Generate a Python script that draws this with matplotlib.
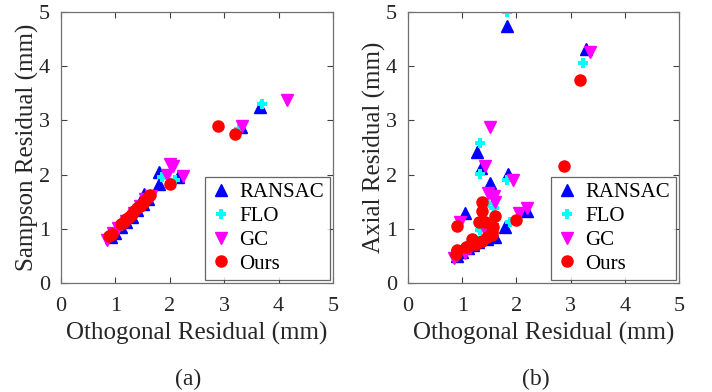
import matplotlib
matplotlib.use("Agg")
import matplotlib.pyplot as plt

plt.rcParams['font.family'] = ['Liberation Serif', 'DejaVu Serif']

# ---------------- data: panel (a) ----------------
a_ransac_x = [0.92, 1.0, 1.1, 1.2, 1.3, 1.4, 1.5, 1.52, 1.6, 1.8, 1.8, 2.15, 3.3, 3.65]
a_ransac_y = [0.85, 0.93, 1.03, 1.12, 1.22, 1.35, 1.45, 1.65, 1.55, 1.83, 2.05, 1.95, 2.88, 3.25]
a_flo_x = [0.95, 1.1, 1.25, 1.4, 1.55, 1.85, 2.1, 3.28, 3.7]
a_flo_y = [0.88, 1.05, 1.2, 1.38, 1.5, 1.95, 1.9, 2.85, 3.3]
a_gc_x = [0.85, 0.95, 1.05, 1.2, 1.35, 1.45, 1.55, 1.65, 1.95, 2.0, 2.05, 2.25, 3.33, 4.15]
a_gc_y = [0.8, 0.93, 1.02, 1.15, 1.3, 1.42, 1.55, 1.6, 2.0, 2.2, 2.15, 1.97, 2.9, 3.37]
a_ours_x = [0.88, 0.93, 1.1, 1.15, 1.2, 1.25, 1.3, 1.35, 1.4, 1.45, 1.5, 1.55, 1.6, 1.63, 2.0, 2.88, 3.2]
a_ours_y = [0.87, 0.9, 1.08, 1.12, 1.18, 1.22, 1.28, 1.33, 1.38, 1.42, 1.48, 1.53, 1.58, 1.63, 1.82, 2.9, 2.75]

# ---------------- data: panel (b) ----------------
b_ransac_x = [1.82, 3.29, 1.27, 1.35, 1.85, 1.52, 1.05, 2.19, 1.79, 1.36, 0.9, 1.0, 1.1, 1.2, 1.3, 1.45, 1.6]
b_ransac_y = [4.75, 4.31, 2.42, 2.12, 2.02, 1.85, 1.29, 1.32, 1.04, 1.07, 0.5, 0.58, 0.65, 0.7, 0.75, 0.82, 0.85]
b_flo_x = [1.82, 3.23, 1.33, 1.33, 1.82, 1.48, 1.58, 1.88, 1.33, 0.95, 1.15, 1.3]
b_flo_y = [5.0, 4.05, 2.58, 2.02, 1.9, 1.47, 1.38, 1.13, 0.98, 0.55, 0.68, 0.78]
b_gc_x = [3.36, 1.52, 1.42, 1.94, 1.48, 1.58, 1.6, 2.19, 2.04, 0.96, 0.84, 0.9, 1.05, 1.15, 1.25, 1.45, 1.55]
b_gc_y = [4.26, 2.88, 2.15, 1.9, 1.66, 1.6, 1.5, 1.38, 1.29, 1.13, 0.46, 0.52, 0.55, 0.65, 0.72, 0.9, 1.0]
b_ours_x = [3.17, 2.87, 1.36, 1.36, 1.31, 1.42, 1.6, 1.99, 1.57, 1.55, 0.9, 0.88, 0.9, 1.07, 1.19, 1.25, 1.37, 1.46, 1.55, 1.13]
b_ours_y = [3.74, 2.15, 1.5, 1.32, 1.13, 1.13, 1.24, 1.17, 1.03, 0.94, 1.05, 0.53, 0.61, 0.66, 0.81, 0.72, 0.78, 0.85, 0.88, 0.68]

ticks = [0, 1, 2, 3, 4, 5]
labels = ['RANSAC', 'FLO', 'GC', 'Ours']

fig = plt.figure(figsize=(7.12, 3.92), dpi=100)
ax1 = fig.add_axes([61/712, 109/392, 272/712, 271/392])
ax2 = fig.add_axes([408/712, 109/392, 271/712, 271/392])

def draw(ax, data, ylabel):
    (rx, ry), (fx, fy), (gx, gy), (ox, oy) = data
    ax.plot(rx, ry, '^', color='#0000ff', ms=9, mec='#0000ff', ls='none', label=labels[0])
    ax.plot(fx, fy, 'P', color='#00ffff', ms=7, mec='#00ffff', mew=0, ls='none', label=labels[1])
    ax.plot(gx, gy, 'v', color='#ff00ff', ms=9, mec='#ff00ff', ls='none', label=labels[2])
    ax.plot(ox, oy, 'o', color='#ff0000', ms=8, mec='#ff0000', ls='none', label=labels[3])
    ax.set_xlim(0, 5)
    ax.set_ylim(0, 5)
    ax.set_xticks(ticks)
    ax.set_yticks(ticks)
    ax.tick_params(direction='in', top=True, right=True, length=4, width=0.8,
                   labelsize=16, color='#404040', labelcolor='#262626')
    ax.tick_params(axis='x', pad=10)
    ax.tick_params(axis='y', pad=8)
    for s in ax.spines.values():
        s.set_color('#707070')
        s.set_linewidth(0.9)
    ax.set_xlabel('Othogonal Residual (mm)', fontsize=18, color='#262626')
    ax.set_ylabel(ylabel, fontsize=18, color='#262626')
    ax.xaxis.set_label_coords(0.5, -0.185, transform=ax.transAxes)
    ax.yaxis.set_label_coords(-0.125, 0.5, transform=ax.transAxes)
    ax.xaxis.label.set_va('center')
    ax.yaxis.label.set_va('center')
    leg = ax.legend(loc='lower right', fontsize=15, frameon=True, fancybox=False,
                    edgecolor='#404040', handletextpad=0.35, borderpad=0.3,
                    labelspacing=0.2, handlelength=1.0, borderaxespad=0.15)
    leg.get_frame().set_linewidth(0.9)

draw(ax1, [(a_ransac_x, a_ransac_y), (a_flo_x, a_flo_y), (a_gc_x, a_gc_y), (a_ours_x, a_ours_y)],
     'Sampson Residual (mm)')
draw(ax2, [(b_ransac_x, b_ransac_y), (b_flo_x, b_flo_y), (b_gc_x, b_gc_y), (b_ours_x, b_ours_y)],
     'Axial Residual (mm)')

fig.text(188/712, 1 - 379/392, '(a)', ha='center', va='center', fontsize=17, color='#262626')
fig.text(536/712, 1 - 379/392, '(b)', ha='center', va='center', fontsize=17, color='#262626')

fig.savefig('out.png', dpi=100)
